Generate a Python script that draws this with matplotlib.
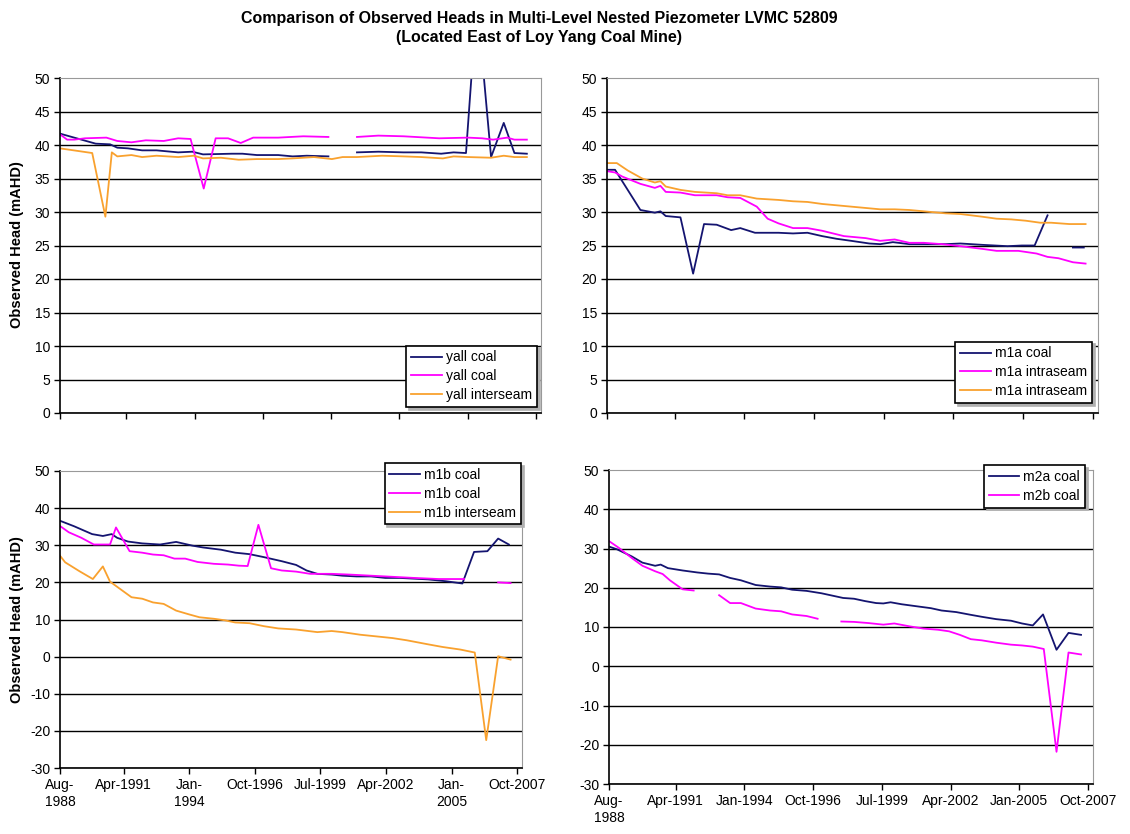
import numpy as np
from matplotlib import pyplot as plt

nan = np.nan

# x positions are decimal years
# --- yall (top left)
yall_coal1_x = [1988.58, 1990.02, 1990.60, 1990.89, 1991.32, 1991.89, 1992.47, 1993.34, 1993.91, 1994.34,
                1995.50, 1995.93, 1996.51, 1997.37, 1997.95, 1998.52, 1999.39, 2000.0, 2000.54, 2001.40,
                2002.41, 2003.13, 2003.93, 2004.43, 2004.93, 2005.37, 2005.94, 2006.45, 2006.88, 2007.38]
yall_coal1_y = [41.7, 40.2, 40.1, 39.6, 39.5, 39.2, 39.2, 38.9, 39.0, 38.6,
                38.7, 38.7, 38.5, 38.5, 38.3, 38.4, 38.3, nan, 38.9, 39.0,
                38.9, 38.9, 38.7, 38.9, 38.8, 61.6, 38.2, 43.3, 38.8, 38.7]
yall_coal2_x = [1988.58, 1988.87, 1989.16, 1989.59, 1990.45, 1990.89, 1991.46, 1992.04, 1992.76, 1993.34,
                1993.84, 1994.37, 1994.85, 1995.35, 1995.86, 1996.36, 1997.37, 1998.38, 1999.39, 2000.0,
                2000.54, 2001.40, 2002.41, 2003.85, 2005.01, 2005.58, 2006.02, 2006.59, 2006.88, 2007.38]
yall_coal2_y = [41.6, 40.8, 40.8, 41.0, 41.1, 40.6, 40.4, 40.7, 40.6, 41.0,
                40.9, 33.5, 41.0, 41.0, 40.3, 41.1, 41.1, 41.3, 41.2, nan,
                41.2, 41.4, 41.3, 41.0, 41.1, 41.0, 40.8, 41.1, 40.8, 40.8]
yall_inter_x = [1988.58, 1989.88, 1990.41, 1990.67, 1990.89, 1991.46, 1991.89, 1992.47, 1993.34, 1993.98,
                1994.34, 1995.06, 1995.78, 1996.51, 1997.37, 1997.95, 1998.81, 1999.53, 1999.96, 2000.54,
                2001.55, 2002.41, 2003.13, 2004.00, 2004.43, 2005.01, 2005.94, 2006.45, 2006.88, 2007.38]
yall_inter_y = [39.5, 38.8, 29.3, 38.9, 38.3, 38.5, 38.2, 38.4, 38.2, 38.4,
                38.0, 38.1, 37.8, 37.9, 37.9, 38.0, 38.2, 37.9, 38.2, 38.2,
                38.4, 38.3, 38.2, 38.0, 38.3, 38.2, 38.1, 38.4, 38.2, 38.2]

# --- m1a (top right)
m1a_coal_x = [1988.58, 1988.90, 1989.90, 1990.47, 1990.69, 1990.90, 1991.48, 1991.98, 1992.41, 1992.91,
              1993.48, 1993.84, 1994.42, 1995.35, 1995.92, 1996.49, 1997.07, 1997.64, 1998.21, 1998.93,
              1999.36, 1999.86, 2000.51, 2001.08, 2001.94, 2002.52, 2003.38, 2004.38, 2004.95, 2005.45,
              2005.96, 2006.5, 2006.96, 2007.39]
m1a_coal_y = [36.3, 36.3, 30.3, 29.9, 30.1, 29.4, 29.2, 20.8, 28.2, 28.1,
              27.3, 27.6, 26.9, 26.9, 26.8, 26.9, 26.4, 26.0, 25.7, 25.3,
              25.2, 25.5, 25.2, 25.2, 25.2, 25.3, 25.1, 24.9, 25.0, 25.0,
              29.5, nan, 24.7, 24.7]
m1a_intra1_x = [1988.58, 1988.90, 1989.18, 1989.90, 1990.47, 1990.69, 1990.90, 1991.48, 1992.05, 1992.91,
                1993.34, 1993.84, 1994.49, 1994.92, 1995.35, 1995.92, 1996.49, 1997.07, 1997.93, 1998.79,
                1999.36, 1999.93, 2000.51, 2001.08, 2001.80, 2002.52, 2003.38, 2003.95, 2004.81, 2005.53,
                2005.96, 2006.39, 2006.96, 2007.46]
m1a_intra1_y = [36.1, 35.9, 35.3, 34.2, 33.6, 33.9, 33.0, 32.9, 32.5, 32.5,
                32.2, 32.1, 30.8, 29.0, 28.3, 27.6, 27.6, 27.2, 26.4, 26.1,
                25.7, 25.9, 25.4, 25.4, 25.2, 24.9, 24.5, 24.2, 24.2, 23.8,
                23.3, 23.1, 22.5, 22.3]
m1a_intra2_x = [1988.58, 1988.97, 1989.40, 1989.97, 1990.47, 1990.69, 1990.90, 1991.48, 1992.05, 1992.91,
                1993.34, 1993.84, 1994.49, 1995.35, 1995.92, 1996.49, 1997.07, 1997.93, 1998.79, 1999.36,
                1999.93, 2000.51, 2001.08, 2001.94, 2002.52, 2003.38, 2003.95, 2004.52, 2005.10, 2005.67,
                2006.10, 2006.82, 2007.46]
m1a_intra2_y = [37.3, 37.3, 36.2, 35.0, 34.4, 34.6, 33.8, 33.3, 33.0, 32.8,
                32.5, 32.5, 32.0, 31.8, 31.6, 31.5, 31.2, 30.9, 30.6, 30.4,
                30.4, 30.3, 30.1, 29.8, 29.7, 29.3, 29.0, 28.9, 28.7, 28.4,
                28.4, 28.2, 28.2]

# --- m1b (bottom left)
m1b_coal1_x = [1988.58, 1989.18, 1989.93, 1990.38, 1990.75, 1990.98, 1991.43, 1992.03, 1992.78, 1993.45,
               1994.13, 1994.58, 1995.33, 1995.93, 1996.53, 1997.13, 1997.88, 1998.48, 1998.92, 1999.37,
               1999.97, 2000.42, 2001.02, 2001.62, 2002.22, 2002.82, 2004.02, 2004.77, 2005.45, 2005.94,
               2006.50, 2006.95, 2007.40]
m1b_coal1_y = [36.6, 35.1, 33.0, 32.5, 33.0, 32.0, 31.0, 30.5, 30.2, 30.9,
               29.9, 29.4, 28.8, 28.0, 27.6, 26.8, 25.7, 24.7, 23.2, 22.3,
               22.1, 21.8, 21.6, 21.6, 21.2, 21.2, 20.8, 20.3, 19.7, 28.2,
               28.4, 31.8, 30.2]
m1b_coal2_x = [1988.58, 1988.95, 1989.48, 1990.00, 1990.68, 1990.93, 1991.50, 1992.03, 1992.48, 1992.93,
               1993.38, 1993.83, 1994.35, 1995.03, 1995.63, 1996.08, 1996.45, 1996.90, 1997.43, 1997.88,
               1998.48, 1999.07, 1999.97, 2000.72, 2001.62, 2002.52, 2003.42, 2004.47, 2005.52, 2006.2,
               2006.95, 2007.47]
m1b_coal2_y = [35.2, 33.5, 32.0, 30.2, 30.2, 34.8, 28.4, 28.0, 27.5, 27.3,
               26.4, 26.4, 25.5, 25.0, 24.8, 24.5, 24.4, 35.5, 23.8, 23.2,
               22.9, 22.3, 22.3, 22.1, 21.8, 21.5, 21.2, 20.9, 20.9, nan,
               20.0, 19.8]
m1b_inter_x = [1988.58, 1988.80, 1989.40, 1989.96, 1990.38, 1990.68, 1990.98, 1991.58, 1992.03, 1992.48,
               1992.93, 1993.45, 1993.98, 1994.43, 1995.03, 1995.48, 1995.93, 1996.53, 1997.13, 1997.73,
               1998.48, 1999.37, 1999.97, 2000.42, 2001.17, 2001.92, 2002.52, 2003.12, 2004.02, 2004.62,
               2005.37, 2005.97, 2006.45, 2006.95, 2007.47]
m1b_inter_y = [27.2, 25.4, 23.0, 20.9, 24.3, 20.2, 18.8, 16.0, 15.6, 14.6,
               14.2, 12.4, 11.4, 10.6, 10.2, 9.8, 9.2, 9.0, 8.2, 7.6,
               7.3, 6.6, 6.9, 6.6, 5.9, 5.4, 5.0, 4.4, 3.3, 2.6,
               1.9, 1.1, -22.5, 0.1, -0.8]

# --- m2a / m2b (bottom right)
m2a_coal_x = [1988.58, 1988.90, 1989.49, 1989.92, 1990.43, 1990.65, 1990.94, 1991.53, 1992.11, 1992.55,
              1992.99, 1993.43, 1993.86, 1994.45, 1995.03, 1995.47, 1995.91, 1996.49, 1997.08, 1997.66,
              1997.95, 1998.39, 1998.83, 1999.27, 1999.56, 1999.85, 2000.29, 2000.87, 2001.46, 2001.89,
              2002.48, 2003.06, 2003.50, 2004.08, 2004.67, 2005.11, 2005.54, 2005.95, 2006.49, 2006.97,
              2007.47]
m2a_coal_y = [30.5, 29.8, 28.0, 26.4, 25.6, 25.9, 25.0, 24.4, 23.9, 23.6,
              23.4, 22.5, 21.9, 20.7, 20.3, 20.1, 19.5, 19.2, 18.6, 17.8,
              17.4, 17.2, 16.6, 16.1, 16.0, 16.3, 15.8, 15.3, 14.8, 14.2,
              13.8, 13.1, 12.6, 12.0, 11.6, 10.9, 10.4, 13.2, 4.2, 8.5,
              8.0]
m2b_coal_x = [1988.58, 1988.97, 1989.49, 1989.92, 1990.43, 1990.73, 1991.02, 1991.53, 1991.97, 1992.5,
              1992.99, 1993.43, 1993.86, 1994.45, 1995.03, 1995.47, 1995.91, 1996.49, 1996.93, 1997.4,
              1997.88, 1998.39, 1998.97, 1999.56, 2000.00, 2000.58, 2001.16, 2001.75, 2002.19, 2002.62,
              2003.06, 2003.50, 2004.08, 2004.67, 2005.11, 2005.54, 2005.98, 2006.49, 2006.97, 2007.47]
m2b_coal_y = [31.9, 30.2, 27.6, 25.6, 24.2, 23.5, 21.9, 19.6, 19.3, nan,
              18.1, 16.1, 16.1, 14.7, 14.2, 14.0, 13.2, 12.8, 12.1, nan,
              11.4, 11.3, 11.0, 10.6, 10.9, 10.2, 9.6, 9.3, 8.9, 8.0,
              6.9, 6.6, 6.0, 5.5, 5.3, 5.0, 4.4, -21.8, 3.5, 3.0]

tick_years = [1988.583, 1991.25, 1994.0, 1996.75, 1999.5, 2002.25, 2005.0, 2007.75]
labels_bl = ['Aug-\n1988', 'Apr-1991', 'Jan-\n1994', 'Oct-1996', 'Jul-1999', 'Apr-2002', 'Jan-\n2005', 'Oct-2007']
labels_br = ['Aug-\n1988', 'Apr-1991', 'Jan-1994', 'Oct-1996', 'Jul-1999', 'Apr-2002', 'Jan-2005', 'Oct-2007']

navy = '#141470'
pink = '#ff00ff'
orange = '#f9a12e'

plt.rcParams['font.family'] = ['Liberation Sans', 'DejaVu Sans']
plt.rcParams['axes.unicode_minus'] = False  # Excel style hyphen minus
W, H = 1130, 834
fig = plt.figure(figsize=(W / 100, H / 100), dpi=100)


def make_axes(x0, x1, y0, y1):
    # pixel box (top-left origin) -> figure coords
    return fig.add_axes([x0 / W, 1 - y1 / H, (x1 - x0) / W, (y1 - y0) / H])


def style(ax, ymin, ymax, ystep, xlabels):
    ax.set_xlim(1988.583, 2007.95)
    ax.set_ylim(ymin, ymax)
    ax.set_yticks(np.arange(ymin, ymax + 1, ystep))
    ax.set_xticks(tick_years)
    if xlabels is None:
        ax.set_xticklabels([])
    else:
        ax.set_xticklabels(xlabels, linespacing=1.3)
    ax.tick_params(direction='out', length=4, width=1, labelsize=10, pad=3)
    ax.grid(axis='y', color='black', linewidth=1)
    ax.yaxis.get_gridlines()[-1].set_visible(False)
    for s in ['top', 'right']:
        ax.spines[s].set_color('#999999')
    for s in ['left', 'bottom']:
        ax.spines[s].set_color('black')
        ax.spines[s].set_linewidth(1.2)
    ax.set_axisbelow(True)


def add_legend(ax, loc, right, y):
    leg = ax.legend(loc=loc, bbox_to_anchor=(right / W, 1 - y / H), bbox_transform=fig.transFigure,
                    fontsize=10, frameon=True, fancybox=False, borderaxespad=0,
                    shadow={'color': '#b0b0b0', 'alpha': 1},
                    handlelength=2.2, handletextpad=0.3, labelspacing=0.35, borderpad=0.35)
    leg.get_frame().set_edgecolor('black')
    leg.get_frame().set_linewidth(1.2)


lw = 1.3

# top left
ax1 = make_axes(60, 541, 78, 413)
ax1.plot(yall_coal1_x, yall_coal1_y, color=navy, lw=lw, label='yall coal')
ax1.plot(yall_coal2_x, yall_coal2_y, color=pink, lw=lw, label='yall coal')
ax1.plot(yall_inter_x, yall_inter_y, color=orange, lw=lw, label='yall interseam')
style(ax1, 0, 50, 5, None)
add_legend(ax1, 'lower right', 537, 407)

# top right
ax2 = make_axes(607, 1098, 78, 413)
ax2.plot(m1a_coal_x, m1a_coal_y, color=navy, lw=lw, label='m1a coal')
ax2.plot(m1a_intra1_x, m1a_intra1_y, color=pink, lw=lw, label='m1a intraseam')
ax2.plot(m1a_intra2_x, m1a_intra2_y, color=orange, lw=lw, label='m1a intraseam')
style(ax2, 0, 50, 5, None)
add_legend(ax2, 'lower right', 1092, 403)

# bottom left
ax3 = make_axes(60, 522, 471, 768)
ax3.plot(m1b_coal1_x, m1b_coal1_y, color=navy, lw=lw, label='m1b coal')
ax3.plot(m1b_coal2_x, m1b_coal2_y, color=pink, lw=lw, label='m1b coal')
ax3.plot(m1b_inter_x, m1b_inter_y, color=orange, lw=lw, label='m1b interseam')
style(ax3, -30, 50, 10, labels_bl)
add_legend(ax3, 'upper right', 521, 463)

# bottom right
ax4 = make_axes(609, 1093, 470, 784)
ax4.plot(m2a_coal_x, m2a_coal_y, color=navy, lw=lw, label='m2a coal')
ax4.plot(m2b_coal_x, m2b_coal_y, color=pink, lw=lw, label='m2b coal')
style(ax4, -30, 50, 10, labels_br)
add_legend(ax4, 'upper right', 1085, 465)

# titles / y labels
fig.text(539 / W, 1 - 28 / H,
         'Comparison of Observed Heads in Multi-Level Nested Piezometer LVMC 52809\n(Located East of Loy Yang Coal Mine)',
         ha='center', va='center', fontsize=11.5, fontweight='bold', linespacing=1.3)
fig.text(17 / W, 1 - 245 / H, 'Observed Head (mAHD)', rotation=90, ha='center', va='center',
         fontsize=10.5, fontweight='bold')
fig.text(17 / W, 1 - 620 / H, 'Observed Head (mAHD)', rotation=90, ha='center', va='center',
         fontsize=10.5, fontweight='bold')

plt.savefig('out.png', dpi=100)
